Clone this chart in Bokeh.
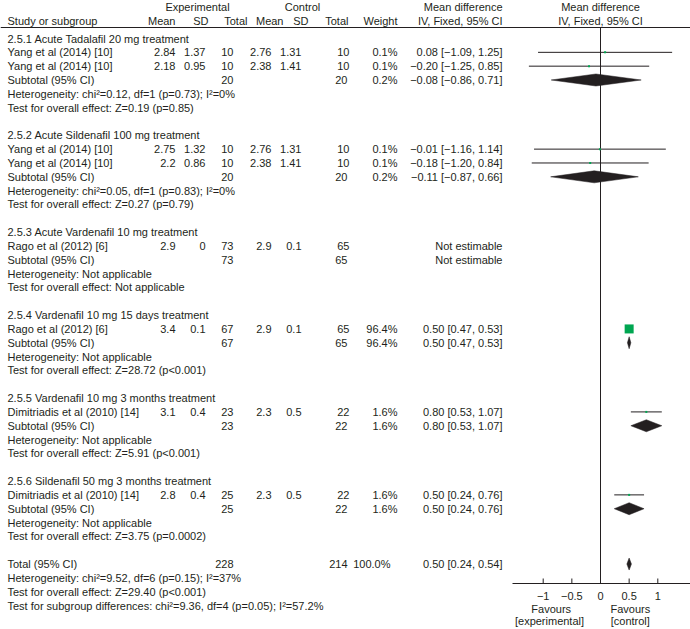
from bokeh.plotting import figure
from bokeh.models import Range1d, ColumnDataSource, LabelSet
from bokeh.embed import file_html
from bokeh.resources import INLINE
from bokeh.core.properties import value

# ---------------- data ----------------
row_labels = [
    "2.5.1 Acute Tadalafil 20 mg treatment",
    "Yang et al (2014) [10]",
    "Yang et al (2014) [10]",
    "Subtotal (95% CI)",
    "Heterogeneity: chi²=0.12, df=1 (p=0.73); I²=0%",
    "Test for overall effect: Z=0.19 (p=0.85)",
    "",
    "2.5.2 Acute Sildenafil 100 mg treatment",
    "Yang et al (2014) [10]",
    "Yang et al (2014) [10]",
    "Subtotal (95% CI)",
    "Heterogeneity: chi²=0.05, df=1 (p=0.83); I²=0%",
    "Test for overall effect: Z=0.27 (p=0.79)",
    "",
    "2.5.3 Acute Vardenafil 10 mg treatment",
    "Rago et al (2012) [6]",
    "Subtotal (95% CI)",
    "Heterogeneity: Not applicable",
    "Test for overall effect: Not applicable",
    "",
    "2.5.4 Vardenafil 10 mg 15 days treatment",
    "Rago et al (2012) [6]",
    "Subtotal (95% CI)",
    "Heterogeneity: Not applicable",
    "Test for overall effect: Z=28.72 (p<0.001)",
    "",
    "2.5.5 Vardenafil 10 mg 3 months treatment",
    "Dimitriadis et al (2010) [14]",
    "Subtotal (95% CI)",
    "Heterogeneity: Not applicable",
    "Test for overall effect: Z=5.91 (p<0.001)",
    "",
    "2.5.6 Sildenafil 50 mg 3 months treatment",
    "Dimitriadis et al (2010) [14]",
    "Subtotal (95% CI)",
    "Heterogeneity: Not applicable",
    "Test for overall effect: Z=3.75 (p=0.0002)",
    "",
    "Total (95% CI)",
    "Heterogeneity: chi²=9.52, df=6 (p=0.15); I²=37%",
    "Test for overall effect: Z=29.40 (p<0.001)",
    "Test for subgroup differences: chi²=9.36, df=4 (p=0.05); I²=57.2%",
]

# individual studies
study_rows = [2, 3, 9, 10, 16, 22, 28, 34]
exp_mean = ["2.84", "2.18", "2.75", "2.2", "2.9", "3.4", "3.1", "2.8"]
exp_sd = ["1.37", "0.95", "1.32", "0.86", "0", "0.1", "0.4", "0.4"]
exp_n = ["10", "10", "10", "10", "73", "67", "23", "25"]
ctl_mean = ["2.76", "2.38", "2.76", "2.38", "2.9", "2.9", "2.3", "2.3"]
ctl_sd = ["1.31", "1.41", "1.31", "1.41", "0.1", "0.1", "0.5", "0.5"]
ctl_n = ["10", "10", "10", "10", "65", "65", "22", "22"]
study_weight = [0.1, 0.1, 0.1, 0.1, None, 96.4, 1.6, 1.6]
study_md = [0.08, -0.20, -0.01, -0.18, None, 0.50, 0.80, 0.50]
study_lo = [-1.09, -1.25, -1.16, -1.20, None, 0.47, 0.53, 0.24]
study_hi = [1.25, 0.85, 1.14, 0.84, None, 0.53, 1.07, 0.76]

# subtotals and total
sub_rows = [4, 11, 17, 23, 29, 35, 39]
sub_exp_n = ["20", "20", "73", "67", "23", "25", "228"]
sub_ctl_n = ["20", "20", "65", "65", "22", "22", "214"]
sub_weight = ["0.2%", "0.2%", "", "96.4%", "1.6%", "1.6%", "100.0%"]
sub_md_text = ["−0.08 [−0.86, 0.71]", "−0.11 [−0.87, 0.66]", "Not estimable",
               "0.50 [0.47, 0.53]", "0.80 [0.53, 1.07]", "0.50 [0.24, 0.76]",
               "0.50 [0.24, 0.54]"]
# diamonds as drawn in the picture
sub_md = [-0.08, -0.11, None, 0.50, 0.80, 0.50, 0.50]
sub_lo = [-0.86, -0.87, None, 0.47, 0.53, 0.24, 0.46]
sub_hi = [0.71, 0.66, None, 0.53, 1.07, 0.76, 0.54]

axis_ticks = [-1, -0.5, 0, 0.5, 1]
axis_tick_labels = ["−1", "−0.5", "0", "0.5", "1"]
favour_top = ["Favours", "Favours"]
favour_bottom = ["[experimental]", "[control]"]

# ---------------- style / layout ----------------
DARK = "#231f20"
GREEN = "#00a651"
FONT = value("Liberation Sans")
FS = "11px"
W, H = 690, 629
AXIS_Y = 583                 # px of the forest axis
ZERO_X, UNIT = 600.0, 57.3   # px of x=0 and px per unit
ROW1, S = 38.0, 13.83        # px of first row and px per row


def X(px):
    return (px - ZERO_X) / UNIT


def Y(py):
    return 1 + (py - ROW1) / S


XL, XR = X(0), X(W)
r_A, r_B, r_L, r_axis = Y(6), Y(20), Y(27), Y(AXIS_Y)

p = figure(width=W, height=H, x_range=Range1d(XL, XR), y_range=Range1d(Y(H), Y(0)),
           output_backend="svg", toolbar_location=None, x_axis_type=None,
           y_axis_type=None, min_border=0)
p.outline_line_color = None
p.grid.visible = False


def labels(xs, ys, texts, align):
    src = ColumnDataSource(dict(x=xs, y=ys, t=texts))
    p.add_layout(LabelSet(x="x", y="y", text="t", source=src, text_align=align,
                          text_baseline="middle", text_font=FONT,
                          text_font_size=FS, text_color=DARK))


def fmt(v):
    return f"{v:.2f}".replace("-", "−")


# header
labels([X(197), X(302), X(600)], [r_A] * 3, ["Experimental", "Control", "Mean difference"], "center")
labels([X(502)], [r_A], ["Mean difference"], "right")
labels([X(7)], [r_B], ["Study or subgroup"], "left")
hdr_px = [175, 208, 247, 283, 308, 348, 397, 502]
hdr_t = ["Mean", "SD", "Total", "Mean", "SD", "Total", "Weight", "IV, Fixed, 95% CI"]
labels([X(v) for v in hdr_px], [r_B] * len(hdr_px), hdr_t, "right")
labels([X(600)], [r_B], ["IV, Fixed, 95% CI"], "center")
p.segment(x0=[XL], y0=[r_L], x1=[XR], y1=[r_L], line_color=DARK, line_width=1)

# row labels
rows_all = list(range(1, len(row_labels) + 1))
labels([X(7)] * len(rows_all), rows_all, row_labels, "left")

# study values
n = len(study_rows)
for px, col in ((175, exp_mean), (205, exp_sd), (233, exp_n), (271, ctl_mean),
                (301, ctl_sd), (349, ctl_n)):
    labels([X(px)] * n, study_rows, col, "right")
w_text = ["" if w is None else f"{w:.1f}%" for w in study_weight]
labels([X(397)] * n, study_rows, w_text, "right")
md_text = ["Not estimable" if m is None else f"{fmt(m)} [{fmt(l)}, {fmt(h)}]"
           for m, l, h in zip(study_md, study_lo, study_hi)]
labels([X(502)] * n, study_rows, md_text, "right")

# subtotal values
m = len(sub_rows)
labels([X(233)] * m, sub_rows, sub_exp_n, "right")
labels([X(347)] * m, sub_rows, sub_ctl_n, "right")
labels([X(397)] * (m - 1) + [X(390)], sub_rows, sub_weight, "right")
labels([X(502)] * m, sub_rows, sub_md_text, "right")

# ---------------- forest ----------------
p.segment(x0=[0], y0=[r_L], x1=[0], y1=[r_axis], line_color=DARK, line_width=1)

valid = [i for i in range(n) if study_md[i] is not None]
src = ColumnDataSource(dict(
    y=[study_rows[i] for i in valid],
    md=[study_md[i] for i in valid],
    lo=[study_lo[i] for i in valid],
    hi=[study_hi[i] for i in valid],
    sz=[max(2.0, 9.0 * (study_weight[i] / 96.4) ** 0.5) for i in valid],
))
p.segment(x0="lo", y0="y", x1="hi", y1="y", source=src, line_color=DARK, line_width=1)
p.rect(x="md", y="y", width="sz", height="sz", width_units="screen",
       height_units="screen", source=src, fill_color=GREEN, line_color=None)

DH = 6.0 / S
dx, dy = [], []
for i in range(m):
    if sub_md[i] is None:
        continue
    y = sub_rows[i]
    dx.append([sub_lo[i], sub_md[i], sub_hi[i], sub_md[i]])
    dy.append([y, y - DH, y, y + DH])
p.patches(xs=dx, ys=dy, fill_color=DARK, line_color=DARK, line_width=0.5)

# x axis of the forest panel (drawn on the data scale)
p.segment(x0=[X(512)], y0=[r_axis], x1=[XR], y1=[r_axis], line_color=DARK, line_width=1)
nt = len(axis_ticks)
p.segment(x0=axis_ticks, y0=[r_axis] * nt, x1=axis_ticks, y1=[Y(AXIS_Y - 5)] * nt,
          line_color=DARK, line_width=1)
labels(axis_ticks, [Y(AXIS_Y + 12)] * nt, axis_tick_labels, "center")
labels([-0.86, 0.52], [Y(AXIS_Y + 25)] * 2, favour_top, "center")
labels([-0.89, 0.52], [Y(AXIS_Y + 37)] * 2, favour_bottom, "center")

open("out.html", "w").write(file_html(p, INLINE))
